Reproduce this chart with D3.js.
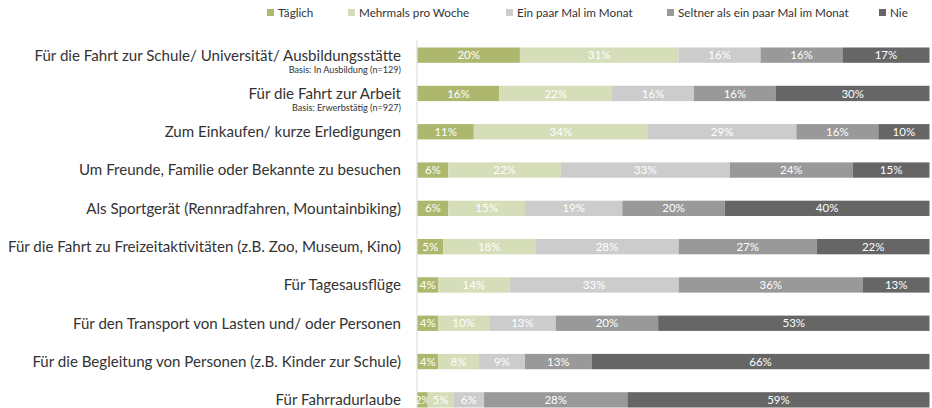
<!DOCTYPE html>
<html><head><meta charset="utf-8">
<script src="https://cdn.jsdelivr.net/npm/d3@7"></script>
<style>body{margin:0;background:#fff;}svg{display:block;font-family:Lato,"Open Sans",sans-serif;}</style>
</head><body>
<script>
const categories = [
  "Für die Fahrt zur Schule/ Universität/ Ausbildungsstätte",
  "Für die Fahrt zur Arbeit",
  "Zum Einkaufen/ kurze Erledigungen",
  "Um Freunde, Familie oder Bekannte zu besuchen",
  "Als Sportgerät (Rennradfahren, Mountainbiking)",
  "Für die Fahrt zu Freizeitaktivitäten (z.B. Zoo, Museum, Kino)",
  "Für Tagesausflüge",
  "Für den Transport von Lasten und/ oder Personen",
  "Für die Begleitung von Personen (z.B. Kinder zur Schule)",
  "Für Fahrradurlaube"
];
const subLabels = ["Basis: In Ausbildung (n=129)", "Basis: Erwerbstätig (n=927)", "", "", "", "", "", "", "", ""];
const seriesNames = ["Täglich", "Mehrmals pro Woche", "Ein paar Mal im Monat", "Seltner als ein paar Mal im Monat", "Nie"];
const taeglich   = [20, 16, 11, 6, 6, 5, 4, 4, 4, 2];
const mehrmals   = [31, 22, 34, 22, 15, 18, 14, 10, 8, 5];
const einPaar    = [16, 16, 29, 33, 19, 28, 33, 13, 9, 6];
const seltner    = [16, 16, 16, 24, 20, 27, 36, 20, 13, 28];
const nie        = [17, 30, 10, 15, 40, 22, 13, 53, 66, 59];
const colors = ["#adb76e", "#d5ddb9", "#cccccc", "#999999", "#666666"];

const W = 932, H = 408;
const svg = d3.select("body").append("svg").attr("width", W).attr("height", H);

const data = categories.map((c, i) => ({cat: c, sub: subLabels[i], vals: [taeglich[i], mehrmals[i], einPaar[i], seltner[i], nie[i]]}));

const x = d3.scaleLinear().domain([0, 100]).range([417.5, 929.5]);
const y = d3.scaleBand().domain(categories).range([36, 419]).paddingInner(0.6).paddingOuter(0.3);

// axis line
svg.append("line").attr("x1", 417).attr("x2", 417).attr("y1", 40).attr("y2", H)
  .attr("stroke", "#d9d9d9").attr("stroke-width", 1);

const rows = svg.selectAll("g.row").data(data).join("g").attr("class", "row")
  .attr("transform", d => `translate(0,${y(d.cat)})`);

rows.each(function(d) {
  const g = d3.select(this);
  let cum = 0;
  d.vals.forEach((v, k) => {
    const x0 = x(cum), x1 = x(cum + v);
    g.append("rect").attr("x", x0).attr("y", 0).attr("width", x1 - x0).attr("height", y.bandwidth())
      .attr("fill", colors[k]);
    g.append("text").attr("x", (x0 + x1) / 2).attr("y", y.bandwidth() / 2).attr("dy", "0.36em")
      .attr("text-anchor", "middle").attr("fill", "#ffffff").attr("font-size", 11.5).text(v + "%");
    cum += v;
  });
  g.append("text").attr("x", 401).attr("y", y.bandwidth() / 2).attr("dy", "0.36em")
    .attr("text-anchor", "end").attr("fill", "#333333").attr("font-size", 15.1).text(d.cat);
  if (d.sub) {
    g.append("text").attr("x", 401).attr("y", y.bandwidth() / 2 + 14.5).attr("dy", "0.36em")
      .attr("text-anchor", "end").attr("fill", "#333333").attr("font-size", 9.1).text(d.sub);
  }
});

// legend
const legX = [267, 348, 506, 667, 879];
const leg = svg.selectAll("g.leg").data(seriesNames).join("g").attr("class", "leg")
  .attr("transform", (d, i) => `translate(${legX[i]},0)`);
leg.append("rect").attr("x", 0).attr("y", 9).attr("width", 7).attr("height", 7).attr("fill", (d, i) => colors[i]);
leg.append("text").attr("x", 11).attr("y", 13).attr("dy", "0.36em").attr("font-size", 11.7)
  .attr("fill", "#333333").text(d => d);
</script>
</body></html>
